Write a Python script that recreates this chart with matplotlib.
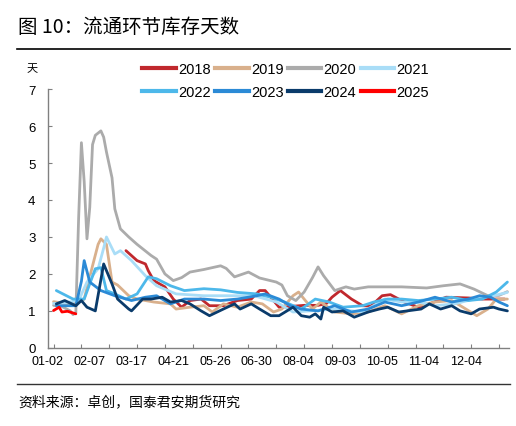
import matplotlib
matplotlib.use("Agg")
import matplotlib.pyplot as plt
from matplotlib.lines import Line2D

plt.rcParams['font.family'] = ['Liberation Sans', 'Noto Sans CJK SC', 'DejaVu Sans']

# x = trading-day index along the seasonal axis, y = days of inventory
x18 = [26, 30, 33, 34, 36, 40, 43, 46, 49, 53, 56, 61, 66, 71, 74, 76, 79, 81, 85, 90, 95, 98,
       100, 103, 107, 111, 114, 118, 121, 126, 131, 135, 141, 149, 154, 162]
y18 = [2.63, 2.36, 2.27, 2.09, 1.82, 1.65, 1.32, 1.1, 1.28, 1.32, 1.14, 1.14, 1.28, 1.32, 1.55, 1.55,
       1.28, 1.1, 1.12, 1.15, 1.15, 1.2, 1.37, 1.55, 1.32, 1.14, 1.13, 1.41, 1.44, 1.24, 1.1, 1.19,
       1.37, 1.35, 1.32, 1.32]

x19 = [0, 4, 8, 11, 14, 16, 17, 19, 21, 23, 27, 30, 36, 42, 44, 49, 54, 57, 61, 66, 71, 75, 79, 82,
       86, 88, 90, 93, 96, 101, 107, 113, 119, 125, 131, 137, 143, 147, 152, 156, 159, 163]
y19 = [1.25, 1.2, 1.2, 1.32, 2.22, 2.8, 2.95, 2.8, 1.78, 1.7, 1.41, 1.32, 1.24, 1.19, 1.05, 1.1,
       1.14, 0.97, 1.19, 1.1, 1.24, 1.19, 0.97, 1.05, 1.41, 1.51, 1.32, 1.05, 1.24, 0.97, 0.92, 0.97,
       1.14, 0.92, 1.14, 1.24, 1.28, 1.1, 0.87, 1.05, 1.32, 1.32]

x20 = [0, 3, 6, 7, 8, 9, 10, 11, 12, 13, 14, 15, 17, 18, 19, 21, 22, 24, 27, 30, 35, 37, 40, 43,
       46, 49, 54, 60, 62, 65, 70, 74, 80, 82, 84, 87, 90, 93, 95, 97, 101, 105, 108, 113, 125, 134,
       140, 146, 151, 156, 160, 163]
y20 = [1.15, 1.12, 1.0, 0.9, 0.95, 3.5, 5.55, 4.5, 2.95, 3.8, 5.5, 5.75, 5.87, 5.7, 5.3, 4.6, 3.76,
       3.22, 3.0, 2.8, 2.5, 2.4, 2.0, 1.82, 1.9, 2.05, 2.12, 2.22, 2.15, 1.92, 2.05, 1.89, 1.78, 1.7,
       1.41, 1.28, 1.51, 1.9, 2.19, 1.95, 1.55, 1.65, 1.59, 1.65, 1.65, 1.62, 1.68, 1.73, 1.59, 1.41,
       1.42, 1.52]

x21 = [0, 4, 9, 12, 16, 18, 19, 22, 24, 28, 33, 37, 44, 54, 64, 72, 80, 86, 92, 101, 111, 119,
       125, 131, 137, 144, 151, 158, 163]
y21 = [1.2, 1.22, 1.28, 1.78, 2.14, 2.7, 3.0, 2.54, 2.63, 2.36, 1.95, 1.68, 1.46, 1.41, 1.41, 1.41,
       1.24, 0.97, 1.0, 1.05, 0.97, 1.32, 1.24, 1.24, 1.14, 1.19, 1.32, 1.41, 1.5]

x22 = [1, 7, 11, 15, 17, 19, 22, 26, 30, 34, 37, 42, 47, 54, 60, 66, 73, 78, 83, 89, 94, 99, 104,
       111, 115, 120, 125, 131, 137, 143, 149, 154, 159, 163]
y22 = [1.55, 1.32, 1.32, 2.14, 2.17, 1.55, 1.46, 1.32, 1.46, 1.92, 1.87, 1.68, 1.55, 1.6, 1.57, 1.5,
       1.46, 1.37, 1.24, 1.05, 1.32, 1.24, 1.1, 1.14, 1.24, 1.32, 1.32, 1.28, 1.32, 1.37, 1.28, 1.32,
       1.51, 1.78]

x23 = [1, 8, 10, 11, 13, 17, 22, 28, 33, 37, 42, 47, 54, 60, 66, 73, 76, 81, 85, 89, 95, 101, 107,
       113, 119, 125, 131, 137, 143, 149, 153, 157, 160, 163]
y23 = [1.14, 1.14, 1.8, 2.36, 1.78, 1.55, 1.41, 1.28, 1.37, 1.41, 1.19, 1.32, 1.32, 1.28, 1.32, 1.41,
       1.46, 1.32, 1.14, 1.05, 1.0, 1.14, 0.97, 1.05, 1.24, 1.14, 1.24, 1.37, 1.24, 1.32, 1.41, 1.37,
       1.24, 1.14]

x24 = [1, 4, 8, 10, 12, 15, 18, 21, 23, 27, 28, 32, 35, 39, 42, 46, 49, 53, 56, 61, 65, 67, 71, 74,
       78, 81, 86, 89, 92, 94, 96, 97, 100, 104, 108, 113, 117, 120, 124, 127, 132, 135, 139, 143,
       146, 150, 153, 158, 160, 163]
y24 = [1.19, 1.28, 1.14, 1.28, 1.1, 1.0, 2.27, 1.73, 1.32, 1.05, 1.0, 1.32, 1.32, 1.37, 1.24, 1.28,
       1.19, 1.0, 0.87, 1.05, 1.19, 1.05, 1.19, 1.05, 0.87, 0.87, 1.1, 0.87, 0.83, 0.92, 0.78, 1.1,
       0.97, 1.0, 0.83, 0.97, 1.05, 1.1, 0.97, 1.0, 1.05, 1.19, 1.05, 1.14, 1.0, 0.92, 1.05, 1.1,
       1.05, 1.0]

x25 = [0, 2, 3, 5, 8]
y25 = [1.01, 1.1, 0.97, 0.99, 0.92]

years = ['2018', '2019', '2020', '2021', '2022', '2023', '2024', '2025']
colors = ['#C0282D', '#D9B08C', '#ABABAB', '#A9DDF7', '#4DB8EA', '#2B8AD6', '#0A3B6B', '#FF0000']
xs = [x18, x19, x20, x21, x22, x23, x24, x25]
ys = [y18, y19, y20, y21, y22, y23, y24, y25]

tick_labels = ['01-02', '02-07', '03-17', '04-21', '05-26', '06-30', '08-04', '09-03',
               '10-05', '11-04', '12-04']

fig = plt.figure(figsize=(5.16, 4.27), dpi=100)
ax = fig.add_axes([0.093, 0.183, 0.893, 0.606])

for xv, yv, c in zip(xs, ys, colors):
    ax.plot(xv, yv, color=c, lw=2.0, solid_joinstyle='round', solid_capstyle='round')

ax.set_xlim(0, 163.5)
ax.set_ylim(0, 7)
ax.spines['top'].set_visible(False)
ax.spines['right'].set_visible(False)
for s in ['left', 'bottom']:
    ax.spines[s].set_color('#808080')
    ax.spines[s].set_linewidth(1.0)

ax.set_yticks(range(0, 8))
ax.tick_params(axis='y', direction='in', length=3, color='#808080', labelsize=9.5, pad=9)
ax.set_xticks(range(0, 170, 10))
ax.set_xticklabels([])
ax.tick_params(axis='x', which='major', direction='in', length=3, color='#808080')
ax.set_xticks([15 * i - 2 for i in range(len(tick_labels))], minor=True)
ax.set_xticklabels(tick_labels, minor=True)
ax.tick_params(axis='x', which='minor', length=0, labelsize=9, pad=5)

# legend fills column by column, so reorder to read row by row
order = [0, 4, 1, 5, 2, 6, 3, 7]
handles = [Line2D([], [], color=colors[i], lw=3) for i in order]
labels = [years[i] for i in order]
fig.legend(handles, labels, loc='center left', bbox_to_anchor=(0.262, 0.809), ncol=4,
           frameon=False, fontsize=10.5, handlelength=2.3, handletextpad=0.15,
           columnspacing=0.3, labelspacing=0.6, borderpad=0)

fig.text(0.062, 0.838, '天', fontsize=8, ha='center', va='center', family=['Noto Sans CJK SC'])
fig.text(0.035, 0.937, '图 10：流通环节库存天数', fontsize=14, ha='left', va='center',
         family=['Noto Sans CJK SC', 'DejaVu Sans'])
fig.add_artist(Line2D([0.033, 0.988], [0.883, 0.883], color='black', lw=1.2))
fig.add_artist(Line2D([0.033, 0.988], [0.098, 0.098], color='#333333', lw=1.0))
fig.text(0.035, 0.059, '资料来源：卓创，国泰君安期货研究', fontsize=10, ha='left', va='center',
         family=['Noto Sans CJK SC', 'DejaVu Sans'])

fig.savefig('out.png', dpi=100)
